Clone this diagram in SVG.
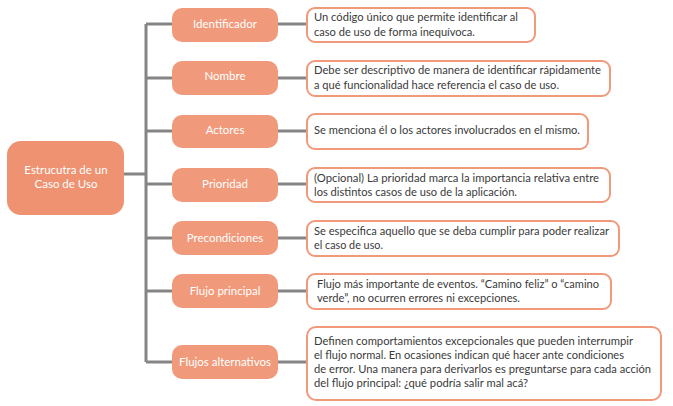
<svg xmlns="http://www.w3.org/2000/svg" width="673" height="406" viewBox="0 0 673 406">
<style>
.c{stroke:#858585;stroke-width:3;fill:none}
.n{fill:#F09A7B}
.m{fill:#EE9272}
.nt{font-family:Lato,"Open Sans",sans-serif;font-size:11.5px;fill:#ffffff;text-anchor:middle}
.d{fill:#ffffff;stroke:#F0997B;stroke-width:2}
.dt{font-family:Lato,"Open Sans",sans-serif;font-size:11px;fill:#3a3a3a}
</style>
<rect width="673" height="406" fill="#ffffff"/>
<g id="connectors">
<path class="c" d="M124 174H146M146 24V362M146 24H172M146 78H172M146 131H172M146 184H172M146 238H172M146 291H172M146 362H172"/>
<path class="c" d="M278 24H307M278 78H307M278 131H307M278 184H307M278 238H307M278 291H307M278 362H307"/>
</g>
<g id="root">
<rect class="m" x="7" y="141" width="117" height="74" rx="14"/>
<text class="nt" x="66" y="174" font-size="12">Estrucutra de un</text>
<text class="nt" x="66" y="188" font-size="12">Caso de Uso</text>
</g>
<g id="n1"><rect class="n" x="172" y="8" width="106" height="34" rx="10"/><text class="nt" x="225" y="28">Identificador</text></g>
<g id="n2"><rect class="n" x="172" y="61" width="106" height="34" rx="10"/><text class="nt" x="225" y="80">Nombre</text></g>
<g id="n3"><rect class="n" x="172" y="115" width="106" height="33" rx="10"/><text class="nt" x="225" y="134">Actores</text></g>
<g id="n4"><rect class="n" x="172" y="168" width="106" height="34" rx="10"/><text class="nt" x="225" y="188">Prioridad</text></g>
<g id="n5"><rect class="n" x="172" y="221" width="106" height="34" rx="10"/><text class="nt" x="225" y="242">Precondiciones</text></g>
<g id="n6"><rect class="n" x="172" y="274" width="106" height="34" rx="10"/><text class="nt" x="225" y="295">Flujo principal</text></g>
<g id="n7"><rect class="n" x="172" y="345" width="106" height="34" rx="10"/><text class="nt" x="225" y="366">Flujos alternativos</text></g>
<g id="d1"><rect class="d" x="307" y="8" width="228" height="34" rx="8"/>
<text class="dt" x="314" y="21" textLength="204" lengthAdjust="spacingAndGlyphs">Un código único que permite identificar al</text>
<text class="dt" x="314" y="36" textLength="161" lengthAdjust="spacingAndGlyphs">caso de uso de forma inequívoca.</text></g>
<g id="d2"><rect class="d" x="307" y="61" width="303" height="35" rx="8"/>
<text class="dt" x="314" y="74" textLength="287" lengthAdjust="spacingAndGlyphs">Debe ser descriptivo de manera de identificar rápidamente</text>
<text class="dt" x="314" y="89" textLength="245" lengthAdjust="spacingAndGlyphs">a qué funcionalidad hace referencia el caso de uso.</text></g>
<g id="d3"><rect class="d" x="307" y="114" width="281" height="35" rx="8"/>
<text class="dt" x="314" y="134" textLength="266" lengthAdjust="spacingAndGlyphs">Se menciona él o los actores involucrados en el mismo.</text></g>
<g id="d4"><rect class="d" x="307" y="168" width="303" height="34" rx="8"/>
<text class="dt" x="314" y="182" textLength="285" lengthAdjust="spacingAndGlyphs">(Opcional) La prioridad marca la importancia relativa entre</text>
<text class="dt" x="314" y="196" textLength="203" lengthAdjust="spacingAndGlyphs">los distintos casos de uso de la aplicación.</text></g>
<g id="d5"><rect class="d" x="307" y="221" width="312" height="35" rx="8"/>
<text class="dt" x="314" y="235" textLength="295" lengthAdjust="spacingAndGlyphs">Se especifica aquello que se deba cumplir para poder realizar</text>
<text class="dt" x="314" y="249" textLength="69" lengthAdjust="spacingAndGlyphs">el caso de uso.</text></g>
<g id="d6"><rect class="d" x="307" y="274" width="304" height="35" rx="8"/>
<text class="dt" x="317" y="288" textLength="282" lengthAdjust="spacingAndGlyphs">Flujo más importante de eventos. “Camino feliz” o “camino</text>
<text class="dt" x="317" y="302" textLength="203" lengthAdjust="spacingAndGlyphs">verde”, no ocurren errores ni excepciones.</text></g>
<g id="d7"><rect class="d" x="307" y="327" width="354" height="73" rx="9"/>
<text class="dt" x="314" y="345" textLength="319" lengthAdjust="spacingAndGlyphs">Definen comportamientos excepcionales que pueden interrumpir</text>
<text class="dt" x="314" y="359" textLength="310" lengthAdjust="spacingAndGlyphs">el flujo normal. En ocasiones indican qué hacer ante condiciones</text>
<text class="dt" x="314" y="373" textLength="337" lengthAdjust="spacingAndGlyphs">de error. Una manera para derivarlos es preguntarse para cada acción</text>
<text class="dt" x="314" y="387" textLength="214" lengthAdjust="spacingAndGlyphs">del flujo principal: ¿qué podría salir mal acá?</text></g>
</svg>
